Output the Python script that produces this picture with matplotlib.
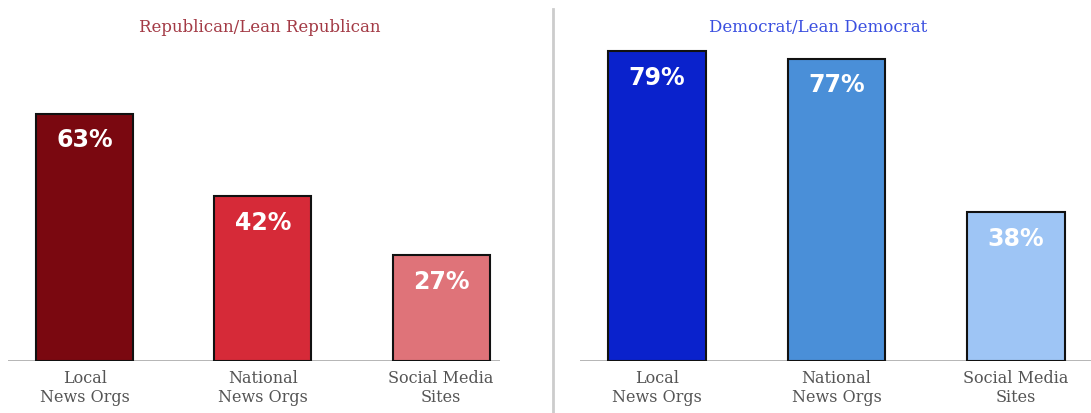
import matplotlib
matplotlib.use("Agg")
from matplotlib import pyplot as plt
from matplotlib.lines import Line2D

categories = ["Local\nNews Orgs", "National\nNews Orgs", "Social Media\nSites"]
rep_values = [63, 42, 27]
dem_values = [79, 77, 38]
rep_colors = ["#7A0810", "#D62A38", "#DF7379"]
dem_colors = ["#0A22CC", "#4A8FD8", "#9EC5F5"]

W, H = 1091, 414
fig = plt.figure(figsize=(W / 100, H / 100), dpi=100)
fig.patch.set_facecolor("white")


def px_axes(x0, x1, y_base, y_top):
  # pixel coords (from top-left) -> figure fraction
  return fig.add_axes([x0 / W, (H - y_base) / H, (x1 - x0) / W, (y_base - y_top) / H])


def draw_panel(ax, values, colors, xlim):
  xs = range(len(values))
  ax.bar(xs, values, width=0.545, color=colors, edgecolor="#111111", linewidth=1.5, zorder=3)
  ax.axhline(0, color="#A0A0A0", linewidth=1.8, zorder=2)
  for x, v in zip(xs, values):
    ax.annotate(f"{v}%", (x, v), xytext=(0, -10), textcoords="offset points",
                ha="center", va="top", color="white", fontsize=17,
                fontweight="semibold", family="DejaVu Sans", zorder=4)
  ax.set_xlim(*xlim)
  ax.set_ylim(0, 89.6)
  ax.set_xticks(list(xs))
  ax.set_xticklabels(categories, family="DejaVu Serif", fontsize=11.5,
                     color="#555555", linespacing=1.1)
  ax.tick_params(axis="x", length=0, pad=6)
  ax.set_yticks([])
  for s in ax.spines.values():
    s.set_visible(False)
  ax.patch.set_alpha(0)


ax1 = px_axes(8, 500, 362, 10)
draw_panel(ax1, rep_values, rep_colors, (-0.43, 2.33))
ax2 = px_axes(580, 1091, 362, 10)
draw_panel(ax2, dem_values, dem_colors, (-0.429, 2.418))

fig.text(259.5 / W, 1 - 27 / H, "Republican/Lean Republican", ha="center", va="center",
         family="DejaVu Serif", fontsize=12, color="#A33A45")
fig.text(818 / W, 1 - 27 / H, "Democrat/Lean Democrat", ha="center", va="center",
         family="DejaVu Serif", fontsize=12, color="#3A4FE0")

fig.add_artist(Line2D([553 / W, 553 / W], [0, 1 - 10 / H], transform=fig.transFigure,
                      color="#CCCCCC", linewidth=2))

fig.savefig("out.png", dpi=100)
